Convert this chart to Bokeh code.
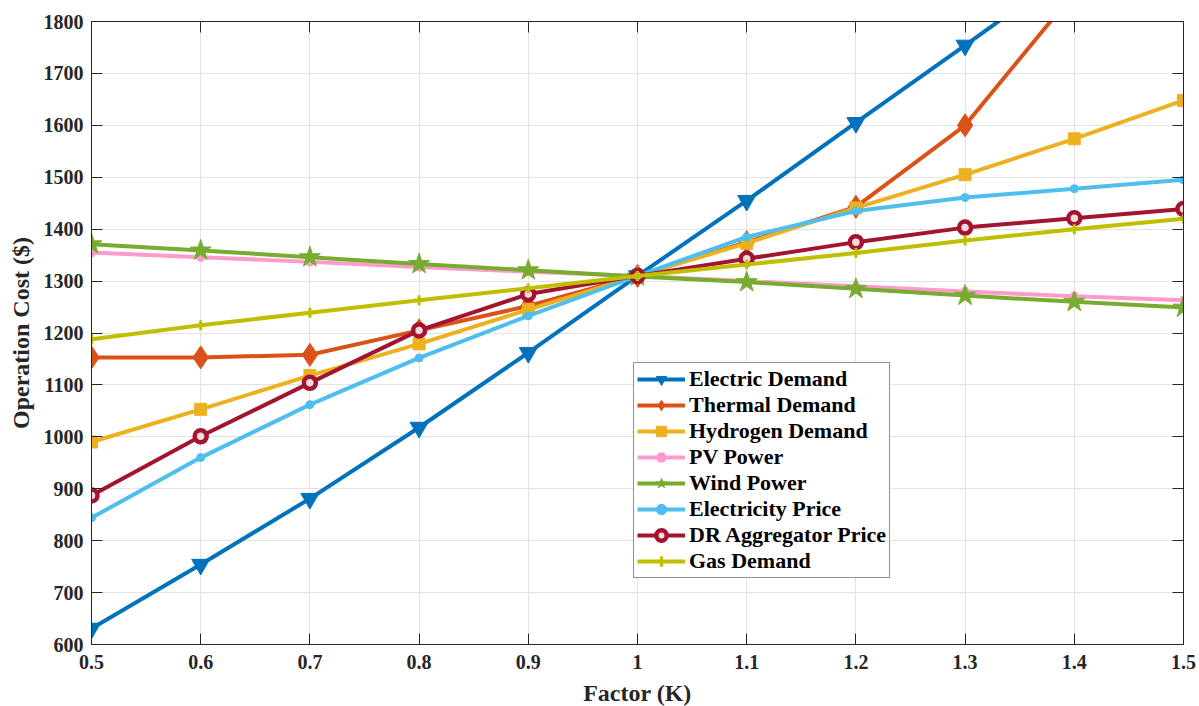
from bokeh.plotting import figure
from bokeh.models import Range1d, FixedTicker, LinearAxis, Legend, LegendItem
from bokeh.embed import file_html
from bokeh.resources import INLINE

# Sensitivity of operation cost to a scaling factor K applied to each input
factor = [0.5, 0.6, 0.7, 0.8, 0.9, 1.0, 1.1, 1.2, 1.3, 1.4, 1.5]
x_tick_labels = ["0.5", "0.6", "0.7", "0.8", "0.9", "1", "1.1", "1.2", "1.3", "1.4", "1.5"]
y_ticks = [600, 700, 800, 900, 1000, 1100, 1200, 1300, 1400, 1500, 1600, 1700, 1800]

electric_demand = [631, 754, 881, 1018, 1162, 1310, 1455, 1605, 1754, 1905, 2055]
thermal_demand = [1153, 1153, 1158, 1205, 1252, 1310, 1375, 1443, 1600, 1856, 2110]
hydrogen_demand = [990, 1053, 1118, 1179, 1245, 1310, 1373, 1441, 1505, 1574, 1648]
pv_power = [1355, 1346, 1337, 1327, 1318, 1310, 1300, 1290, 1280, 1271, 1263]
wind_power = [1371, 1359, 1346, 1333, 1321, 1309, 1298, 1285, 1272, 1260, 1249]
electricity_price = [844, 960, 1062, 1152, 1233, 1310, 1385, 1435, 1461, 1478, 1495]
dr_aggregator_price = [887, 1001, 1104, 1205, 1275, 1310, 1343, 1375, 1403, 1421, 1439]
gas_demand = [1188, 1215, 1239, 1263, 1286, 1310, 1332, 1354, 1378, 1400, 1420]

# name, values, colour, marker, marker size, marker fill, marker outline width
series = [
    ("Electric Demand", electric_demand, "#0072BD", "inverted_triangle", 18, "#0072BD", 1),
    ("Thermal Demand", thermal_demand, "#D95319", "diamond", 23, "#D95319", 1),
    ("Hydrogen Demand", hydrogen_demand, "#EDB120", "square", 12, "#EDB120", 1),
    ("PV Power", pv_power, "#FF9ACC", "hex", 9, "#FF9ACC", 1),
    ("Wind Power", wind_power, "#77AC30", "star", 22, "#77AC30", 1),
    ("Electricity Price", electricity_price, "#4DBEEE", "circle", 8, "#4DBEEE", 1),
    ("DR Aggregator Price", dr_aggregator_price, "#A2142F", "circle", 12, "#F3DCE0", 4.5),
    ("Gas Demand", gas_demand, "#BFBF00", "cross", 10, "#BFBF00", 3),
]

FONT = "Liberation Serif"
INK = "#262626"

p = figure(
    frame_width=1092, frame_height=623,
    min_border_left=91, min_border_right=16, min_border_top=21, min_border_bottom=62,
    x_range=Range1d(0.5, 1.5), y_range=Range1d(600, 1800),
    output_backend="svg", toolbar_location=None,
)
p.background_fill_color = "white"
p.border_fill_color = "white"
p.outline_line_color = INK
p.outline_line_width = 1

items = []
for name, vals, color, marker, size, fill, mlw in series:
    ln = p.line(factor, vals, line_color=color, line_width=4)
    sc = p.scatter(factor, vals, marker=marker, size=size, line_color=color,
                   fill_color=fill, line_width=mlw)
    items.append(LegendItem(label=name, renderers=[ln, sc]))

# Axes: bottom/left with labels, top/right as bare tick frames
for ax in (p.xaxis[0], p.yaxis[0]):
    ax.major_tick_in = 11
    ax.major_tick_out = 0
    ax.minor_tick_line_color = None
    ax.axis_line_color = INK
    ax.major_tick_line_color = INK
    ax.major_label_text_font = FONT
    ax.major_label_text_font_style = "bold"
    ax.major_label_text_font_size = "20px"
    ax.major_label_text_color = INK
    ax.axis_label_text_font = FONT
    ax.axis_label_text_font_style = "bold"
    ax.axis_label_text_font_size = "24px"
    ax.axis_label_text_color = INK

p.xaxis[0].ticker = FixedTicker(ticks=factor)
p.xaxis[0].major_label_overrides = {t: s for t, s in zip(factor, x_tick_labels)}
p.xaxis[0].major_label_standoff = 10
p.xaxis[0].axis_label = "Factor (K)"
p.xaxis[0].axis_label_standoff = 8
p.yaxis[0].ticker = FixedTicker(ticks=y_ticks)
p.yaxis[0].major_label_standoff = 8
p.yaxis[0].axis_label = "Operation Cost ($)"
p.yaxis[0].axis_label_standoff = 7

for place, ticks in (("above", factor), ("right", y_ticks)):
    ax = LinearAxis(ticker=FixedTicker(ticks=ticks))
    ax.major_tick_in = 11
    ax.major_tick_out = 0
    ax.minor_tick_line_color = None
    ax.axis_line_color = INK
    ax.major_tick_line_color = INK
    ax.major_label_text_font_size = "1px"
    ax.major_label_text_color = None
    ax.major_label_standoff = 0
    p.add_layout(ax, place)

p.xgrid.ticker = FixedTicker(ticks=factor)
p.ygrid.ticker = FixedTicker(ticks=y_ticks)
p.xgrid.grid_line_color = "#e3e3e3"
p.ygrid.grid_line_color = "#e3e3e3"
p.xgrid.grid_line_width = 1
p.ygrid.grid_line_width = 1

legend = Legend(items=items, location=(542, 66))
legend.label_text_font = FONT
legend.label_text_font_style = "bold"
legend.label_text_font_size = "22px"
legend.label_text_color = "black"
legend.border_line_color = INK
legend.border_line_width = 1
legend.background_fill_color = "white"
legend.background_fill_alpha = 1.0
legend.padding = 3
legend.spacing = 0
legend.margin = 0
legend.glyph_width = 48
legend.glyph_height = 26
legend.label_height = 26
legend.label_standoff = 4
p.add_layout(legend, "center")

open("out.html", "w").write(file_html(p, INLINE))
